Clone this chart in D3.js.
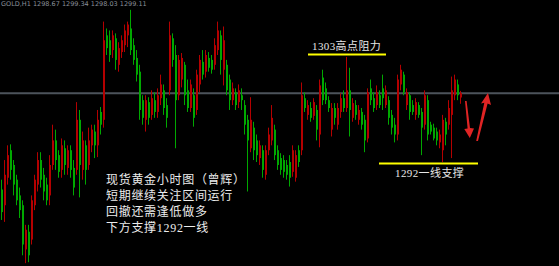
<!DOCTYPE html>
<html>
<head>
<meta charset="utf-8">
<script src="https://cdn.jsdelivr.net/npm/d3@7"></script>
<style>
  html, body { margin: 0; padding: 0; background: #000; }
  svg { display: block; }
</style>
</head>
<body>
<svg id="chart" width="559" height="266"></svg>
<script>
// Hourly gold candles (GOLD,H1), oldest first.
const opens = [
  1289.3,1287.7,1290.5,1293.3,1291.8,1290.3,1288.7,1287.7,1283.2,1285.0,
  1284.2,1287.7,1289.8,1292.3,1290.8,1289.8,1288.7,1291.8,1294.3,1292.8,
  1291.3,1293.5,1291.5,1293.3,1291.5,1291.3,1296.4,1291.3,1293.8,1291.8,
  1293.8,1295.2,1293.8,1297.2,1296.4,1305.0,1304.5,1303.5,1304.7,1302.0,
  1303.3,1304.0,1305.0,1305.7,1304.0,1302.7,1301.3,1298.4,1296.4,1298.2,
  1296.9,1298.4,1297.2,1298.6,1299.4,1297.9,1299.4,1304.7,1303.0,1298.9,
  1300.5,1302.0,1299.4,1297.6,1298.9,1297.4,1300.0,1302.3,1301.3,1302.7,
  1302.5,1302.0,1303.5,1305.0,1301.5,1302.0,1300.5,1298.4,1299.2,1298.2,
  1298.9,1297.9,1296.4,1293.5,1295.6,1294.3,1292.5,1293.3,1290.8,1293.3,
  1294.3,1295.4,1293.3,1292.5,1292.3,1291.8,1292.1,1291.1,1290.5,1293.3,
  1293.3,1298.6,1296.9,1297.6,1296.8,1297.4,1294.9,1300.7,1299.6,1298.4,
  1295.4,1297.6,1295.9,1297.2,1298.6,1297.6,1299.4,1296.6,1297.9,1296.4,
  1297.2,1296.4,1294.5,1299.6,1298.6,1297.9,1298.9,1299.6,1297.9,1298.4,
  1296.9,1295.9,1294.9,1300.0,1301.0,1297.9,1298.9,1297.9,1296.9,1297.9,
  1297.2,1295.9,1298.4,1295.9,1295.6,1295.2,1294.1,1293.3,1296.2,1295.9,
  1296.9,1298.9,1300.0,1298.67
];
const highs = [
  1290.3,1292.3,1293.8,1293.9,1292.3,1290.8,1289.5,1288.2,1285.7,1285.7,
  1288.7,1290.8,1293.1,1293.1,1291.5,1290.5,1292.8,1295.9,1295.4,1293.3,
  1294.5,1294.3,1293.8,1293.8,1292.3,1298.2,1297.4,1295.2,1294.3,1295.6,
  1295.9,1295.9,1297.4,1297.7,1306.4,1305.7,1305.5,1305.5,1305.2,1304.3,
  1305.0,1306.1,1306.4,1307.6,1304.7,1303.5,1302.0,1298.9,1298.9,1298.7,
  1299.4,1299.2,1299.6,1301.0,1300.0,1298.6,1306.4,1305.2,1304.0,1303.0,
  1303.2,1302.3,1300.5,1300.5,1299.6,1301.5,1303.0,1303.5,1303.5,1303.3,
  1303.0,1304.7,1306.4,1305.5,1305.9,1302.5,1301.0,1300.2,1299.6,1300.0,
  1299.6,1298.4,1296.9,1298.7,1296.2,1294.9,1294.3,1293.8,1293.8,1295.6,
  1297.9,1295.9,1293.8,1293.0,1292.8,1292.3,1292.8,1293.8,1293.3,1293.8,
  1300.2,1299.2,1298.4,1298.2,1298.6,1297.9,1300.5,1301.5,1300.2,1298.8,
  1298.1,1298.1,1298.1,1299.1,1299.4,1302.8,1301.7,1298.6,1298.4,1297.9,
  1297.6,1296.9,1299.6,1300.5,1299.2,1299.9,1299.4,1301.0,1299.9,1298.8,
  1297.4,1296.6,1301.0,1302.0,1301.3,1299.6,1299.2,1298.4,1298.6,1298.2,
  1297.6,1299.4,1298.9,1296.2,1296.0,1295.6,1295.4,1296.9,1296.6,1298.4,
  1300.8,1301.0,1300.5,1299.34
];
const lows = [
  1286.2,1286.0,1289.8,1290.3,1288.7,1287.7,1286.4,1282.6,1281.8,1281.9,
  1283.7,1287.2,1289.1,1289.5,1288.2,1287.7,1287.7,1291.3,1291.3,1290.5,
  1290.5,1290.8,1290.8,1290.5,1288.7,1290.8,1288.5,1290.3,1289.8,1291.3,
  1293.1,1292.5,1292.6,1294.9,1295.6,1303.0,1302.3,1302.7,1301.5,1301.3,
  1302.7,1303.3,1303.8,1303.0,1302.0,1300.3,1296.4,1295.9,1295.2,1295.9,
  1296.4,1296.6,1296.6,1297.9,1296.9,1295.6,1298.9,1301.8,1293.5,1298.4,
  1299.7,1297.9,1297.2,1297.2,1295.7,1296.9,1299.2,1300.5,1300.7,1301.3,
  1301.1,1301.5,1303.0,1301.0,1299.9,1298.9,1297.4,1297.9,1297.4,1297.6,
  1297.4,1294.9,1289.1,1293.1,1292.3,1292.1,1291.8,1290.5,1290.3,1292.8,
  1293.8,1292.3,1291.3,1290.8,1290.5,1290.3,1289.6,1290.6,1290.1,1291.6,
  1292.8,1297.2,1296.4,1296.2,1296.4,1294.3,1293.6,1297.9,1298.0,1297.2,
  1294.7,1295.9,1295.4,1296.6,1297.2,1297.2,1294.7,1296.2,1296.4,1295.9,
  1295.4,1293.1,1294.1,1297.9,1297.2,1297.4,1297.6,1297.4,1297.6,1295.9,
  1294.9,1294.1,1294.3,1299.4,1298.9,1297.4,1296.4,1296.9,1296.4,1296.6,
  1292.8,1295.4,1294.3,1294.9,1294.3,1293.8,1293.5,1292.1,1293.8,1295.4,
  1292.5,1298.4,1298.4,1298.03
];
const closes = [
  1287.0,1290.8,1292.8,1291.3,1289.8,1288.2,1287.2,1283.7,1285.2,1282.6,
  1288.2,1290.3,1292.3,1290.3,1289.1,1288.2,1291.8,1294.3,1292.3,1291.1,
  1293.8,1291.8,1293.3,1291.3,1289.5,1296.4,1291.8,1294.3,1291.3,1294.3,
  1295.4,1293.8,1296.4,1295.9,1304.5,1303.7,1303.0,1305.0,1302.5,1303.7,
  1304.5,1305.5,1306.1,1303.5,1302.5,1301.0,1297.4,1296.6,1298.4,1296.6,
  1298.6,1297.2,1298.9,1300.0,1297.6,1296.6,1305.0,1302.5,1298.4,1302.5,
  1302.7,1298.9,1297.6,1300.0,1296.6,1301.0,1302.5,1301.0,1303.0,1301.7,
  1301.5,1304.0,1305.5,1302.5,1304.5,1299.4,1298.4,1299.6,1297.9,1299.4,
  1298.4,1295.9,1294.3,1296.4,1293.3,1292.8,1293.8,1291.3,1293.3,1294.9,
  1296.6,1292.8,1291.8,1291.3,1291.1,1290.8,1290.5,1293.3,1292.8,1292.1,
  1298.9,1297.6,1297.9,1296.6,1298.2,1295.4,1299.9,1298.4,1298.4,1297.6,
  1297.6,1296.6,1297.6,1298.6,1297.6,1299.4,1297.4,1298.1,1296.9,1297.4,
  1295.9,1294.3,1299.2,1298.4,1297.6,1299.2,1297.9,1298.6,1299.4,1296.6,
  1295.6,1294.9,1300.5,1301.5,1299.2,1299.2,1297.2,1297.2,1298.2,1296.9,
  1295.6,1298.9,1294.9,1295.2,1294.5,1294.3,1294.9,1296.4,1294.9,1297.6,
  1299.4,1300.5,1298.9,1299.11
];

// Price levels marked on the chart.
const resistance = 1303;
const support = 1292;
const bid = 1299.11;

// Header line and commentary text.
const header = "GOLD,H1  1298.67 1299.34 1298.03 1299.11";
const resistanceLabel = "1303高点阻力";
const supportLabel = "1292一线支撑";
const notes = ["现货黄金小时图（曾辉）", "短期继续关注区间运行", "回撤还需逢低做多", "下方支撑1292一线"];

const svg = d3.select("#chart"),
    width = 559,
    height = 266;

const candles = opens.map((o, i) => ({ i, open: o, high: highs[i], low: lows[i], close: closes[i] }));

// Index scale for the bars, price scale for the vertical.
const x = d3.scaleLinear().domain([0, candles.length - 1]).range([1, 460]);
const y = d3.scaleLinear().domain([1281.51, 1308.6]).range([height, 0]);

const up = "#b40000", down = "#00a800";

svg.append("rect").attr("width", width).attr("height", height).attr("fill", "#000");

// Bid line across the whole chart.
svg.append("line")
    .attr("x1", 0).attr("x2", width)
    .attr("y1", y(bid)).attr("y2", y(bid))
    .attr("stroke", "#4c535b").attr("stroke-width", 2);

// Candles: wick then body.
const c = svg.append("g").selectAll("g").data(candles).join("g");

c.append("line")
    .attr("x1", d => Math.round(x(d.i)) + 0.5)
    .attr("x2", d => Math.round(x(d.i)) + 0.5)
    .attr("y1", d => y(d.high))
    .attr("y2", d => y(d.low))
    .attr("stroke", d => d.close >= d.open ? up : down)
    .attr("stroke-width", 1);

c.append("rect")
    .attr("x", d => Math.round(x(d.i)))
    .attr("width", 2)
    .attr("y", d => y(Math.max(d.open, d.close)))
    .attr("height", d => Math.max(1, Math.abs(y(d.open) - y(d.close))))
    .attr("fill", d => d.close >= d.open ? up : down);

// Resistance and support marks.
svg.append("line")
    .attr("x1", 308).attr("x2", 386)
    .attr("y1", y(resistance) - 0.5).attr("y2", y(resistance) - 0.5)
    .attr("stroke", "#ffff00").attr("stroke-width", 2);

svg.append("line")
    .attr("x1", 379).attr("x2", 478)
    .attr("y1", y(support) + 0.5).attr("y2", y(support) + 0.5)
    .attr("stroke", "#ffff00").attr("stroke-width", 2);

const font = "'Liberation Serif', 'Noto Sans CJK SC', sans-serif";

svg.append("text")
    .attr("x", 312).attr("y", 50)
    .attr("fill", "#e6e6e6")
    .style("font-family", font).style("font-size", "11px").style("letter-spacing", "0.4px")
    .text(resistanceLabel);

svg.append("text")
    .attr("x", 395).attr("y", 177)
    .attr("fill", "#e6e6e6")
    .style("font-family", font).style("font-size", "11px").style("letter-spacing", "0.4px")
    .text(supportLabel);

// Commentary block.
svg.append("g").selectAll("text").data(notes).join("text")
    .attr("x", 106)
    .attr("y", (d, i) => 184 + i * 16)
    .attr("fill", "#ececec")
    .style("font-family", font).style("font-size", "12px").style("letter-spacing", "0.7px")
    .text(d => d);

// Header at the top edge.
svg.append("text")
    .attr("x", 1).attr("y", 6)
    .attr("fill", "#8a909a")
    .style("font-family", "'DejaVu Sans', sans-serif").style("font-size", "6.5px")
    .text(header);

// Two red arrows drawn by hand next to the last bar.
svg.append("path")
    .attr("d", "M465,101 L466.6,101 L470,128 L474,128.5 L469.8,138 L464.3,129 L467.6,128.5 Z")
    .attr("fill", "#e02424");

svg.append("path")
    .attr("d", "M488,93 L491,105 L487.6,103.6 L478,141 L476.2,141 L484.3,102.8 L481,103.4 Z")
    .attr("fill", "#e02424");
</script>
</body>
</html>
